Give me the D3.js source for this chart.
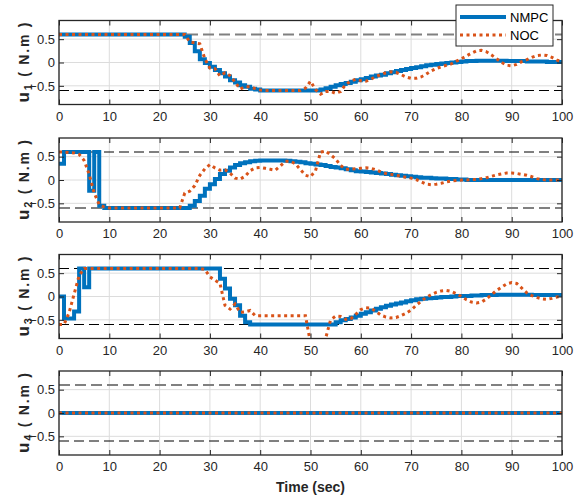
<!DOCTYPE html>
<html>
<head>
<meta charset="utf-8">
<script src="https://cdn.jsdelivr.net/npm/d3@7"></script>
<style>
  body { margin: 0; background: #fff; }
  svg { display: block; font-family: "Liberation Sans", Arial, sans-serif; }
</style>
</head>
<body>
<svg id="chart" width="582" height="497"></svg>
<script>
// Commandes u1..u4 : NMPC (escalier, échantillonné à 1 s) vs NOC (pointillé)
const time = d3.range(0, 101)   // t = 0..100 s, pas de 1 s
const xTicks = [0, 10, 20, 30, 40, 50, 60, 70, 80, 90, 100]
const yTicks = [-0.5, 0, 0.5]
const limits = [-0.6, 0.6]
const seriesNames = ["NMPC", "NOC"]

const nmpcU1 = [
  0.6, 0.6, 0.6, 0.6, 0.6, 0.6, 0.6, 0.6, 0.6, 0.6,
  0.6, 0.6, 0.6, 0.6, 0.6, 0.6, 0.6, 0.6, 0.6, 0.6,
  0.6, 0.6, 0.6, 0.6, 0.6, 0.55, 0.42, 0.24, 0.07, -0.01,
  -0.09, -0.16, -0.23, -0.30, -0.38, -0.43, -0.49, -0.52, -0.56, -0.58,
  -0.6, -0.6, -0.6, -0.6, -0.6, -0.6, -0.6, -0.6, -0.6, -0.6,
  -0.6, -0.6, -0.58, -0.55, -0.52, -0.49, -0.46, -0.44, -0.41, -0.38,
  -0.36, -0.33, -0.30, -0.28, -0.26, -0.23, -0.21, -0.18, -0.16, -0.14,
  -0.12, -0.10, -0.08, -0.06, -0.05, -0.03, -0.02, -0.01, 0.00, 0.01,
  0.02, 0.03, 0.03, 0.04, 0.04, 0.04, 0.04, 0.04, 0.04, 0.03,
  0.03, 0.03, 0.03, 0.02, 0.02, 0.02, 0.02, 0.01, 0.01, 0.01,
  0.01,
]
const nocU1 = [
  0.6, 0.6, 0.6, 0.6, 0.6, 0.6, 0.6, 0.6, 0.6, 0.6,
  0.6, 0.6, 0.6, 0.6, 0.6, 0.6, 0.6, 0.6, 0.6, 0.6,
  0.6, 0.6, 0.6, 0.6, 0.6, 0.6, 0.44, 0.42, 0.40, 0.08,
  -0.12, -0.13, -0.29, -0.22, -0.28, -0.42, -0.57, -0.52, -0.52, -0.56,
  -0.59, -0.6, -0.6, -0.6, -0.6, -0.6, -0.6, -0.6, -0.6, -0.55,
  -0.40, -0.58, -0.68, -0.62, -0.62, -0.66, -0.62, -0.47, -0.40, -0.36,
  -0.39, -0.40, -0.36, -0.30, -0.26, -0.22, -0.20, -0.21, -0.26, -0.31,
  -0.34, -0.34, -0.31, -0.25, -0.18, -0.13, -0.09, -0.06, -0.03, 0.03,
  0.08, 0.14, 0.20, 0.25, 0.26, 0.23, 0.16, 0.08, 0.00, -0.06,
  -0.07, -0.04, 0.02, 0.06, 0.11, 0.15, 0.16, 0.15, 0.11, 0.05,
  0.02,
]
const nmpcU2 = [
  0.35, 0.6, 0.6, 0.6, 0.6, 0.6, -0.23, 0.6, -0.55, -0.6,
  -0.6, -0.6, -0.6, -0.6, -0.6, -0.6, -0.6, -0.6, -0.6, -0.6,
  -0.6, -0.6, -0.6, -0.6, -0.6, -0.6, -0.55, -0.45, -0.34, -0.19,
  -0.09, 0.02, 0.13, 0.20, 0.27, 0.32, 0.36, 0.38, 0.40, 0.41,
  0.42, 0.42, 0.42, 0.42, 0.42, 0.41, 0.40, 0.39, 0.38, 0.36,
  0.35, 0.33, 0.32, 0.30, 0.28, 0.27, 0.25, 0.23, 0.21, 0.19,
  0.18, 0.17, 0.16, 0.15, 0.14, 0.13, 0.11, 0.10, 0.09, 0.08,
  0.07, 0.06, 0.05, 0.05, 0.04, 0.03, 0.03, 0.02, 0.02, 0.01,
  0.01, 0, 0, 0, 0, 0, 0, 0, 0, 0,
  0, 0, 0, 0, 0, 0, 0, 0, 0, 0,
  0,
]
const nocU2 = [
  0.6, 0.6, 0.59, 0.58, 0.55, 0.42, 0.12, -0.28, -0.53, -0.58,
  -0.6, -0.6, -0.6, -0.6, -0.6, -0.6, -0.6, -0.6, -0.6, -0.6,
  -0.6, -0.6, -0.6, -0.6, -0.6, -0.28, -0.24, -0.12, 0.10, 0.24,
  0.33, 0.26, 0.21, 0.22, 0.15, 0.04, 0.02, 0.08, 0.20, 0.26,
  0.27, 0.25, 0.23, 0.21, 0.30, 0.40, 0.40, 0.35, 0.22, 0.10,
  0.07, 0.20, 0.60, 0.62, 0.54, 0.45, 0.31, 0.23, 0.23, 0.24,
  0.25, 0.26, 0.25, 0.22, 0.17, 0.14, 0.12, 0.10, 0.08, 0.06,
  0.04, 0.01, -0.04, -0.09, -0.10, -0.09, -0.07, -0.04, -0.02, -0.01,
  0, 0, 0.01, 0.01, 0.03, 0.05, 0.08, 0.11, 0.13, 0.15,
  0.15, 0.14, 0.12, 0.10, 0.07, 0.03, 0.01, 0, 0, 0,
  0,
]
const nmpcU3 = [
  0, -0.47, -0.47, -0.32, 0.6, 0.2, 0.6, 0.6, 0.6, 0.6,
  0.6, 0.6, 0.6, 0.6, 0.6, 0.6, 0.6, 0.6, 0.6, 0.6,
  0.6, 0.6, 0.6, 0.6, 0.6, 0.6, 0.6, 0.6, 0.6, 0.6,
  0.6, 0.6, 0.38, 0.17, -0.05, -0.19, -0.41, -0.55, -0.6, -0.6,
  -0.6, -0.6, -0.6, -0.6, -0.6, -0.6, -0.6, -0.6, -0.6, -0.6,
  -0.6, -0.6, -0.6, -0.6, -0.6, -0.55, -0.51, -0.48, -0.45, -0.41,
  -0.37, -0.34, -0.30, -0.26, -0.23, -0.20, -0.17, -0.15, -0.13, -0.10,
  -0.08, -0.06, -0.05, -0.04, -0.03, -0.02, -0.01, -0.01, 0.00, 0.01,
  0.01, 0.01, 0.02, 0.02, 0.03, 0.03, 0.03, 0.04, 0.04, 0.04,
  0.04, 0.04, 0.04, 0.04, 0.03, 0.03, 0.03, 0.03, 0.03, 0.03,
  0.03,
]
const nocU3 = [
  -0.6, -0.6, -0.35, 0.05, 0.45, 0.6, 0.6, 0.6, 0.6, 0.6,
  0.6, 0.6, 0.6, 0.6, 0.6, 0.6, 0.6, 0.6, 0.6, 0.6,
  0.6, 0.6, 0.6, 0.6, 0.6, 0.6, 0.6, 0.6, 0.6, 0.58,
  0.42, 0.35, 0.28, -0.19, -0.27, -0.16, -0.34, -0.33, -0.30, -0.41,
  -0.41, -0.41, -0.41, -0.41, -0.41, -0.41, -0.41, -0.41, -0.41, -0.41,
  -1.0, -1.15, -1.15, -0.9, -0.5, -0.42, -0.43, -0.49, -0.48, -0.38,
  -0.28, -0.24, -0.25, -0.32, -0.40, -0.44, -0.46, -0.45, -0.41, -0.36,
  -0.29, -0.19, -0.10, -0.02, 0.04, 0.09, 0.12, 0.13, 0.11, 0.06,
  0.00, -0.07, -0.12, -0.14, -0.12, -0.05, 0.04, 0.13, 0.20, 0.27,
  0.30, 0.28, 0.18, 0.08, 0.02, -0.02, -0.05, -0.06, -0.04, -0.01,
  0.00,
]
const nmpcU4 = [
  0, 0, 0, 0, 0, 0, 0, 0, 0, 0, 0, 0, 0, 0, 0, 0, 0, 0, 0, 0,
  0, 0, 0, 0, 0, 0, 0, 0, 0, 0, 0, 0, 0, 0, 0, 0, 0, 0, 0, 0,
  0, 0, 0, 0, 0, 0, 0, 0, 0, 0, 0, 0, 0, 0, 0, 0, 0, 0, 0, 0,
  0, 0, 0, 0, 0, 0, 0, 0, 0, 0, 0, 0, 0, 0, 0, 0, 0, 0, 0, 0,
  0, 0, 0, 0, 0, 0, 0, 0, 0, 0, 0, 0, 0, 0, 0, 0, 0, 0, 0, 0,
  0,
]
const nocU4 = nmpcU4.slice()

// Styles (hors données)
const C = {
  nmpc: "#0072BD",
  noc: "#D95319",
  axis: "#262626",
  grid: "#dcdcdc",
}
const left = 59, right = 562
const panelTops = [20.5, 138, 254.5, 371]
const panelH = 84
// style des droites de saturation ±0.6 : [bas, haut]
const limStyles = [
  ["black", "gray"],
  ["gray", "black"],
  ["black", "black"],
  ["black", "gray"],
]
const limStyle = {
  black: { stroke: "#000", width: 1, dash: "10,5" },
  gray: { stroke: "#808080", width: 2, dash: "11,5" },
}

const panels = [
  { sub: "1", nmpc: nmpcU1, noc: nocU1 },
  { sub: "2", nmpc: nmpcU2, noc: nocU2 },
  { sub: "3", nmpc: nmpcU3, noc: nocU3 },
  { sub: "4", nmpc: nmpcU4, noc: nocU4 },
]

const svg = d3.select("#chart")
const x = d3.scaleLinear().domain([0, 100]).range([left, right])

panels.forEach((p, i) => {
  const top = panelTops[i]
  const bottom = top + panelH
  const y = d3.scaleLinear().domain([-0.9, 0.9]).range([bottom, top])
  const g = svg.append("g")

  // clip sur la zone des axes
  const clipId = `clip-${i}`
  svg.append("clipPath").attr("id", clipId)
    .append("rect")
    .attr("x", left).attr("y", top)
    .attr("width", right - left).attr("height", panelH)

  // Grille
  g.append("g").selectAll("line")
    .data(xTicks)
    .join("line")
    .attr("x1", (d) => x(d)).attr("x2", (d) => x(d))
    .attr("y1", top).attr("y2", bottom)
    .attr("stroke", C.grid).attr("stroke-width", 1)
  g.append("g").selectAll("line")
    .data(yTicks)
    .join("line")
    .attr("x1", left).attr("x2", right)
    .attr("y1", (d) => y(d)).attr("y2", (d) => y(d))
    .attr("stroke", C.grid).attr("stroke-width", 1)

  // Limites ±0.6 (tirets)
  limits.forEach((v, k) => {
    const s = limStyle[limStyles[i][k]]
    g.append("line")
      .attr("x1", left).attr("x2", right)
      .attr("y1", y(v)).attr("y2", y(v))
      .attr("stroke", s.stroke).attr("stroke-width", s.width)
      .attr("stroke-dasharray", s.dash)
  })

  const plot = g.append("g").attr("clip-path", `url(#${clipId})`)

  // NMPC : escalier
  plot.append("path")
    .datum(p.nmpc)
    .attr("fill", "none")
    .attr("stroke", C.nmpc).attr("stroke-width", 4)
    .attr("d", d3.line().curve(d3.curveStepAfter)
      .x((_, j) => x(time[j])).y((d) => y(d)))

  // NOC : pointillé
  plot.append("path")
    .datum(p.noc)
    .attr("fill", "none")
    .attr("stroke", C.noc).attr("stroke-width", 3)
    .attr("stroke-dasharray", "3,3.5")
    .attr("d", d3.line()
      .x((_, j) => x(time[j])).y((d) => y(d)))

  // Axes (ticks vers l'intérieur, sur les 4 côtés)
  const axB = g.append("g")
    .attr("transform", `translate(0,${bottom})`)
    .call(d3.axisBottom(x).tickValues(xTicks).tickSize(-5).tickSizeOuter(0).tickPadding(7))
  const axT = g.append("g")
    .attr("transform", `translate(0,${top})`)
    .call(d3.axisTop(x).tickValues(xTicks).tickSize(-5).tickSizeOuter(0).tickFormat(""))
  const axL = g.append("g")
    .attr("transform", `translate(${left},0)`)
    .call(d3.axisLeft(y).tickValues(yTicks).tickSize(-5).tickSizeOuter(0).tickPadding(4)
      .tickFormat((d) => (d === 0 ? "0" : d3.format(".1f")(d))))
  const axR = g.append("g")
    .attr("transform", `translate(${right},0)`)
    .call(d3.axisRight(y).tickValues(yTicks).tickSize(-5).tickSizeOuter(0).tickFormat(""))

  ;[axB, axT, axL, axR].forEach((a) => {
    a.select(".domain").remove()
    a.selectAll("line").attr("stroke", C.axis).attr("stroke-width", 1)
    a.selectAll("text")
      .attr("fill", C.axis)
      .attr("font-size", 13)
      .attr("font-family", "Liberation Sans, Arial, sans-serif")
  })

  // Cadre
  g.append("rect")
    .attr("x", left).attr("y", top)
    .attr("width", right - left).attr("height", panelH)
    .attr("fill", "none").attr("stroke", C.axis).attr("stroke-width", 1.3)

  // Label Y : u_i ( N.m )
  const lab = g.append("text")
    .attr("transform", `translate(29,${top + panelH / 2}) rotate(-90)`)
    .attr("text-anchor", "middle")
    .attr("font-weight", "bold")
    .attr("font-size", 14)
    .attr("fill", C.axis)
    .attr("textLength", 80)
    .attr("lengthAdjust", "spacing")
  lab.append("tspan").attr("font-size", 17).text("u")
  lab.append("tspan").attr("font-size", 11).attr("dy", 3).text(p.sub)
  lab.append("tspan").attr("dy", -3).text(" ( N.m )")
})

// Titre axe X
svg.append("text")
  .attr("x", (left + right) / 2).attr("y", 492)
  .attr("text-anchor", "middle")
  .attr("font-weight", "bold").attr("font-size", 14)
  .attr("fill", C.axis)
  .text("Time (sec)")

// Légende
const leg = svg.append("g")
leg.append("rect")
  .attr("x", 456).attr("y", 5).attr("width", 97).attr("height", 41)
  .attr("fill", "#fff").attr("stroke", C.axis).attr("stroke-width", 1)
seriesNames.forEach((name, k) => {
  const ly = 17 + k * 18
  leg.append("line")
    .attr("x1", 460).attr("x2", 506).attr("y1", ly).attr("y2", ly)
    .attr("stroke", k === 0 ? C.nmpc : C.noc)
    .attr("stroke-width", k === 0 ? 4 : 3)
    .attr("stroke-dasharray", k === 0 ? null : "3,3.5")
  leg.append("text")
    .attr("x", 510).attr("y", ly + 4.5)
    .attr("font-size", 13).attr("fill", "#000")
    .text(name)
})
</script>
</body>
</html>
